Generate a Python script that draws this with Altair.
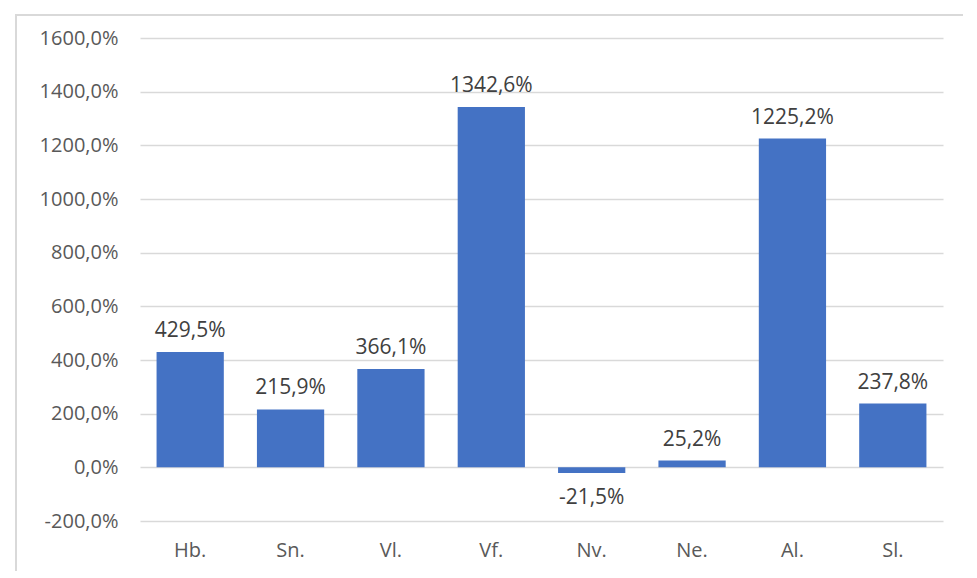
import altair as alt
import pandas as pd

categories = ["Hb.", "Sn.", "Vl.", "Vf.", "Nv.", "Ne.", "Al.", "Sl."]
values = [429.5, 215.9, 366.1, 1342.6, -21.5, 25.2, 1225.2, 237.8]
y_ticks = [-200, 0, 200, 400, 600, 800, 1000, 1200, 1400, 1600]

df = pd.DataFrame({"cat": categories, "val": values})
df["label"] = [f"{v:.1f}".replace(".", ",") + "%" for v in values]

FONT = "Open Sans, sans-serif"
FS = 20

x = alt.X("cat:N", sort=categories, title=None,
          scale=alt.Scale(paddingInner=0.33, paddingOuter=0.165),
          axis=alt.Axis(labelAngle=0, ticks=False, domain=False, grid=False, labelPadding=19,
                        labelFontSize=FS, labelColor="#595959", labelFont=FONT))
y = alt.Y("val:Q", title=None,
          scale=alt.Scale(domain=[-200, 1600], nice=False),
          axis=alt.Axis(values=y_ticks, ticks=False, domain=False, labelPadding=22,
                        labelFontSize=FS, labelColor="#595959", labelFont=FONT,
                        gridColor="#d9d9d9", gridWidth=1.3,
                        labelExpr="replace(replace(format(datum.value, '.1f'), '.', ','), '\u2212', '-') + '%'"))

base = alt.Chart(df)
bars = base.mark_bar(color="#4472C4").encode(x=x, y=y)
lab_pos = base.transform_filter("datum.val >= 0").mark_text(
    dy=-15, fontSize=21, color="#404040", font=FONT, baseline="alphabetic"
).encode(x=alt.X("cat:N", sort=categories), y="val:Q", text="label:N")
lab_neg = base.transform_filter("datum.val < 0").mark_text(
    dy=14, fontSize=21, color="#404040", font=FONT, baseline="top"
).encode(x=alt.X("cat:N", sort=categories), y="val:Q", text="label:N")

frame = alt.Chart(pd.DataFrame({"a": [0]})).mark_rect(
    fill=None, stroke="#d9d9d9", strokeWidth=2, clip=False
).encode(x=alt.value(-124), x2=alt.value(829), y=alt.value(-23), y2=alt.value(560))

chart = alt.layer(frame, bars, lab_pos, lab_neg).properties(
    width=803, height=483,
    padding={"left": 132, "top": 30, "right": 20, "bottom": 50},
    autosize=alt.AutoSizeParams(type="none"),
    background="white",
).configure_view(stroke=None)

chart.save("out.html", embed_options={"renderer": "svg", "actions": False})
